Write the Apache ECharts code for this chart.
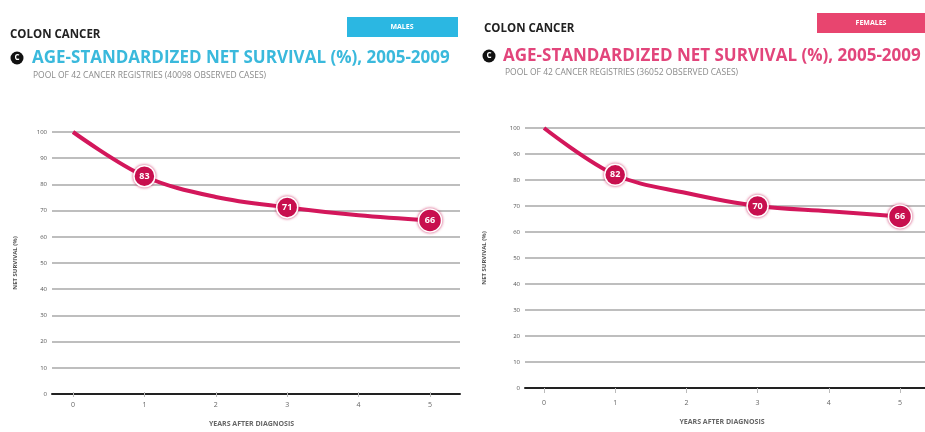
<!DOCTYPE html>
<html><head><meta charset="utf-8">
<script src="https://cdn.jsdelivr.net/npm/echarts@6/dist/echarts.min.js"></script>
<style>html,body{margin:0;padding:0;background:#fff}#c{width:925px;height:432px}</style>
</head><body><div id="c"></div>
<script>
const years = [0, 1, 2, 3, 4, 5];
const maleSurvival = [100, 83, 75, 71, 68, 66];
const femaleSurvival = [100, 82, 75, 70, 68, 66];
const labeledYears = [1, 3, 5];
const panelTitle = 'COLON CANCER';
const chartTitle = 'AGE-STANDARDIZED NET SURVIVAL (%), 2005-2009';
const maleSub = 'POOL OF 42 CANCER REGISTRIES (40098 OBSERVED CASES)';
const femaleSub = 'POOL OF 42 CANCER REGISTRIES (36052 OBSERVED CASES)';

const LINE = '#d3175b';
const FONT = '"Open Sans", "Liberation Sans", sans-serif';

function seriesData(vals) {
  return years.map((y, i) => {
    const on = labeledYears.indexOf(y) >= 0;
    return {
      value: [y, vals[i]],
      symbol: on ? 'circle' : 'none',
      symbolSize: on ? (y === 5 ? 23 : 21) : 0,
      label: { show: on }
    };
  });
}

const chart = echarts.init(document.getElementById('c'), null, { renderer: 'canvas' });

const grids = [
  { left: 52, right: 465, top: 132, bottom: 38 },
  { left: 73, right: 495, top: 132, bottom: 38 },
  { left: 525, right: 0, top: 128, bottom: 44 },
  { left: 544, right: 25, top: 128, bottom: 44 }
];

function wideX(gi) {
  return { gridIndex: gi, type: 'value', min: 0, max: 1, axisLabel: { show: false }, axisTick: { show: false }, splitLine: { show: false },
    axisLine: { show: true, lineStyle: { color: '#222', width: 2 } } };
}
function dataX(gi, nameGap, margin) {
  return { gridIndex: gi, type: 'value', min: 0, max: 5, interval: 1,
    axisLine: { show: false }, splitLine: { show: false },
    axisTick: { show: true, length: 5, lineStyle: { color: '#bbb', width: 1 } },
    axisLabel: { color: '#666', fontSize: 7, fontFamily: FONT, margin: margin },
    name: 'YEARS AFTER DIAGNOSIS', nameLocation: 'middle', nameGap: nameGap,
    nameTextStyle: { color: '#666', fontSize: 7, fontWeight: 'bold', fontFamily: FONT } };
}
function wideY(gi, nameGap) {
  return { gridIndex: gi, type: 'value', min: 0, max: 100, interval: 10,
    axisLine: { show: false }, axisTick: { show: false },
    axisLabel: { color: '#555', fontSize: 6, fontFamily: FONT, margin: 5 },
    splitLine: { show: true, lineStyle: { color: '#a8a8a8', width: 1.5 } },
    name: 'NET SURVIVAL (%)', nameLocation: 'middle', nameGap: nameGap, nameRotate: 90,
    nameTextStyle: { color: '#555', fontSize: 6, fontWeight: 'bold', fontFamily: FONT } };
}
function dataY(gi) {
  return { gridIndex: gi, type: 'value', min: 0, max: 100, interval: 10, show: false, splitLine: { show: false } };
}
function lineSeries(xi, vals) {
  return {
    type: 'line', xAxisIndex: xi, yAxisIndex: xi, smooth: 0.35,
    data: seriesData(vals),
    lineStyle: { color: LINE, width: 4 },
    itemStyle: { color: '#c8104f', borderColor: '#fff', borderWidth: 1.5, shadowColor: 'rgba(200,16,79,0.7)', shadowBlur: 3 },
    label: { show: false, position: 'inside', color: '#fff', fontSize: 9, fontWeight: 'bold', fontFamily: FONT,
      formatter: p => p.value[1] },
    z: 5
  };
}

const graphic = [
  // left header
  { type: 'text', x: 10, y: 35, style: { text: panelTitle, fill: '#222', font: 'bold 11.5px ' + FONT, verticalAlign: 'middle' } },
  { type: 'rect', shape: { x: 347, y: 17, width: 111, height: 20 }, style: { fill: '#2bb7e2' } },
  { type: 'text', x: 402, y: 27, style: { text: 'MALES', fill: '#fff', font: 'bold 7px ' + FONT, align: 'center', verticalAlign: 'middle' } },
  { type: 'circle', shape: { cx: 17, cy: 58, r: 6.5 }, style: { fill: '#111' } },
  { type: 'text', x: 17, y: 58, style: { text: 'C', fill: '#fff', font: 'bold 8px ' + FONT, align: 'center', verticalAlign: 'middle' } },
  { type: 'text', x: 32, y: 58, style: { text: chartTitle, fill: '#3ab9dc', font: 'bold 17px ' + FONT, verticalAlign: 'middle' } },
  { type: 'text', x: 33, y: 76, style: { text: maleSub, fill: '#8a8a8a', font: '8.5px ' + FONT, verticalAlign: 'middle' } },
  // right header
  { type: 'text', x: 484, y: 29, style: { text: panelTitle, fill: '#222', font: 'bold 11.5px ' + FONT, verticalAlign: 'middle' } },
  { type: 'rect', shape: { x: 817, y: 13, width: 108, height: 20 }, style: { fill: '#e8456f' } },
  { type: 'text', x: 871, y: 23, style: { text: 'FEMALES', fill: '#fff', font: 'bold 7px ' + FONT, align: 'center', verticalAlign: 'middle' } },
  { type: 'circle', shape: { cx: 489, cy: 56, r: 6.5 }, style: { fill: '#111' } },
  { type: 'text', x: 489, y: 56, style: { text: 'C', fill: '#fff', font: 'bold 8px ' + FONT, align: 'center', verticalAlign: 'middle' } },
  { type: 'text', x: 503, y: 56, style: { text: chartTitle, fill: '#e2457b', font: 'bold 17px ' + FONT, verticalAlign: 'middle' } },
  { type: 'text', x: 505, y: 73, style: { text: femaleSub, fill: '#8a8a8a', font: '8.5px ' + FONT, verticalAlign: 'middle' } }
];

chart.setOption({
  animation: false,
  backgroundColor: '#fff',
  grid: grids,
  xAxis: [wideX(0), dataX(1, 28, 9), wideX(2), dataX(3, 30, 11)],
  yAxis: [wideY(0, 34), dataY(1), wideY(2, 38), dataY(3)],
  series: [lineSeries(1, maleSurvival), lineSeries(3, femaleSurvival)],
  graphic: graphic
});
</script></body></html>
